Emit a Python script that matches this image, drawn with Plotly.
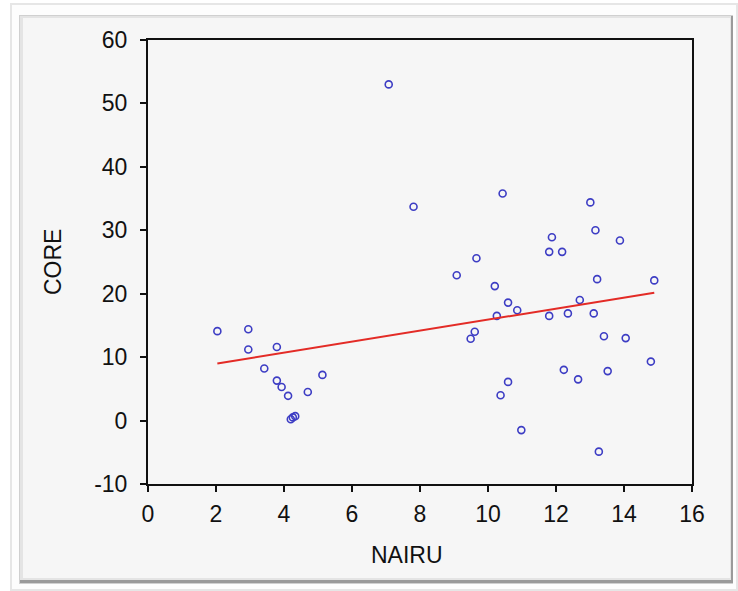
import numpy as np
import plotly.graph_objects as go

# NAIRU vs CORE observations
nairu = [2.04, 2.95, 2.95, 3.79, 3.42, 3.79, 3.93, 4.12, 4.20, 4.26, 4.33, 4.70, 5.13,
         7.08, 7.81, 9.08, 9.49, 9.61, 9.66, 10.20, 10.26, 10.37, 10.43, 10.59, 10.59,
         10.86, 10.98, 11.80, 11.80, 11.88, 12.18, 12.23, 12.35, 12.65, 12.70, 13.01,
         13.11, 13.16, 13.21, 13.26, 13.41, 13.52, 13.88, 14.05, 14.79, 14.89]
core = [14.1, 14.4, 11.2, 11.6, 8.2, 6.3, 5.3, 3.9, 0.2, 0.5, 0.7, 4.5, 7.2,
        53.0, 33.7, 22.9, 12.9, 14.0, 25.6, 21.2, 16.5, 4.0, 35.8, 18.6, 6.1,
        17.4, -1.5, 26.6, 16.5, 28.9, 26.6, 8.0, 16.9, 6.5, 19.0, 34.4,
        16.9, 30.0, 22.3, -4.9, 13.3, 7.8, 28.4, 13.0, 9.3, 22.1]

x_ticks = [0, 2, 4, 6, 8, 10, 12, 14, 16]
y_ticks = [-10, 0, 10, 20, 30, 40, 50, 60]
y_tick_labels = ["-10", "0", "10", "20", "30", "40", "50", "60"]

# least-squares line over the observed NAIRU range
slope, intercept = np.polyfit(nairu, core, 1)
fit_x = [min(nairu), max(nairu)]
fit_y = [intercept + slope * v for v in fit_x]

W, H = 738, 591
L, R, T, B = 148, 46, 40, 107
pw, ph = W - L - R, H - T - B


def px(X):
    return (X - L) / pw


def py(Y):
    return (H - B - Y) / ph


shapes = []


def rect(x0, y0, x1, y1, fill):
    shapes.append(dict(type="rect", xref="paper", yref="paper", layer="below",
                       x0=px(x0), x1=px(x1), y0=py(y1), y1=py(y0),
                       fillcolor=fill, line=dict(width=0)))


# outer card with soft edge
rect(10, 3, 738, 591, "#e6e6e6")
rect(12, 5, 736, 589, "#fdfdfd")
# inner panel with bevel shadows
rect(19, 15, 733, 584, "#d0d0d0")
rect(20, 16, 733, 583, "#9a9a9a")
rect(20, 16, 731, 580, "#e4e4e4")
rect(23, 18, 730, 578, "#f6f6f6")

fig = go.Figure()
fig.add_trace(go.Scatter(
    x=nairu, y=core, mode="markers",
    marker=dict(symbol="circle-open", size=7, color="#3d3dc4", line=dict(width=1.6)),
    showlegend=False, cliponaxis=False))
fig.add_trace(go.Scatter(
    x=fit_x, y=fit_y, mode="lines",
    line=dict(color="#e32b26", width=2), showlegend=False))

tick_font = dict(family="Liberation Sans, Arial, sans-serif", size=23, color="#111111")
title_font = dict(family="Liberation Sans, Arial, sans-serif", size=23, color="#111111")

fig.update_layout(
    width=W, height=H,
    margin=dict(l=L, r=R, t=T, b=B),
    paper_bgcolor="#ffffff", plot_bgcolor="rgba(0,0,0,0)",
    shapes=shapes,
    xaxis=dict(range=[0, 16], tickvals=x_ticks, ticks="outside", ticklen=6, tickwidth=1.5,
               tickcolor="#111111", showline=True, linecolor="#111111", linewidth=2,
               mirror=True, showgrid=False, zeroline=False, tickfont=tick_font,
               ticklabelstandoff=2),
    yaxis=dict(range=[-10, 60], tickvals=y_ticks, ticktext=y_tick_labels,
               ticks="outside", ticklen=6, tickwidth=1.5,
               tickcolor="#111111", showline=True, linecolor="#111111", linewidth=2,
               mirror=True, showgrid=False, zeroline=False, tickfont=tick_font,
               ticklabelstandoff=8),
    annotations=[
        dict(text="NAIRU", xref="paper", yref="paper", x=px(407), y=py(555),
             xanchor="center", yanchor="middle", showarrow=False, font=title_font),
        dict(text="CORE", xref="paper", yref="paper", x=px(53), y=py(262),
             xanchor="center", yanchor="middle", showarrow=False, textangle=-90,
             font=title_font),
    ],
)

fig.write_html("out.html")
